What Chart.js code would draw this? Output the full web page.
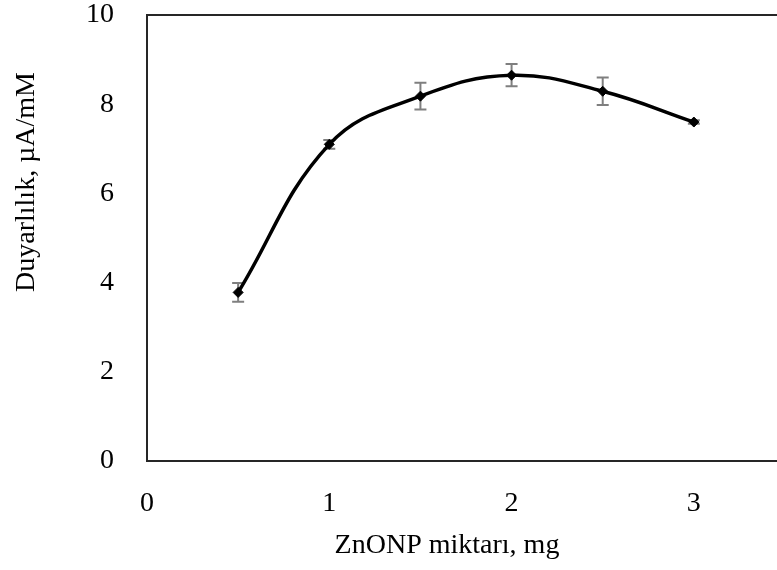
<!DOCTYPE html>
<html>
<head>
<meta charset="utf-8">
<script src="https://cdn.jsdelivr.net/npm/chart.js@4.4.1/dist/chart.umd.min.js"></script>
<style>
  html, body { margin: 0; padding: 0; background: #fff; overflow: hidden; }
  #wrap { width: 800px; height: 570px; }
</style>
</head>
<body>
<div id="wrap"><canvas id="sens"></canvas></div>
<script>
// ZnONP amount (mg) vs sensitivity (uA/mM), with standard deviations
var amounts = [0.5, 1, 1.5, 2, 2.5, 3];
var sensitivity = [3.78, 7.1, 8.18, 8.65, 8.29, 7.6];
var errors = [0.21, 0.1, 0.3, 0.25, 0.31, 0.04];
var xTicks = [0, 1, 2, 3];
var yTicks = [0, 2, 4, 6, 8, 10];
var xTitle = 'ZnONP miktarı, mg';
var yTitle = 'Duyarlılık, µA/mM';

var points = amounts.map(function (a, i) { return { x: a, y: sensitivity[i] }; });

var serif = '"Liberation Serif", "Times New Roman", serif';
var fontPx = 28;

// grey error bars with caps, the plot frame and the two axis titles
var errorBars = {
  id: 'errorBars',
  beforeDatasetsDraw: function (chart) {
    var c = chart.ctx, xs = chart.scales.x, ys = chart.scales.y;
    c.save();
    c.strokeStyle = '#7f7f7f';
    c.lineWidth = 2;
    amounts.forEach(function (a, i) {
      var px = xs.getPixelForValue(a);
      var top = ys.getPixelForValue(sensitivity[i] + errors[i]);
      var bot = ys.getPixelForValue(sensitivity[i] - errors[i]);
      c.beginPath();
      c.moveTo(px, top); c.lineTo(px, bot);
      c.moveTo(px - 6, top); c.lineTo(px + 6, top);
      c.moveTo(px - 6, bot); c.lineTo(px + 6, bot);
      c.stroke();
    });
    c.restore();
  },
  afterDraw: function (chart) {
    var a = chart.chartArea, c = chart.ctx;
    c.save();
    c.strokeStyle = '#262626';
    c.lineWidth = 2;
    c.strokeRect(a.left, a.top, a.right - a.left, a.bottom - a.top);

    c.fillStyle = '#000';
    c.font = fontPx + 'px ' + serif;
    c.textAlign = 'center';
    c.textBaseline = 'middle';
    c.fillText(xTitle, 447, 546);
    c.translate(27, 182);
    c.rotate(-Math.PI / 2);
    c.fillText(yTitle, 0, 0);
    c.restore();
  }
};

new Chart(document.getElementById('sens'), {
  type: 'scatter',
  data: {
    datasets: [{
      data: points,
      showLine: true,
      tension: 0.4,
      borderColor: '#000',
      borderWidth: 3.5,
      pointStyle: 'rectRot',
      pointRadius: 5,
      pointBackgroundColor: '#000',
      pointBorderColor: '#000',
      pointBorderWidth: 1
    }]
  },
  options: {
    responsive: true,
    maintainAspectRatio: false,
    animation: false,
    layout: { padding: { top: 15, right: 15, left: 0, bottom: 0 } },
    plugins: { legend: { display: false }, tooltip: { enabled: false } },
    scales: {
      x: {
        type: 'linear',
        min: 0,
        max: 3.5,
        afterBuildTicks: function (s) { s.ticks = xTicks.map(function (v) { return { value: v }; }); },
        afterFit: function (s) { s.height = 109; s.paddingLeft = 0; s.paddingRight = 0; },
        grid: { display: false },
        border: { display: false },
        ticks: { color: '#000', padding: 18, maxRotation: 0, font: { family: serif, size: fontPx } }
      },
      y: {
        min: 0,
        max: 10,
        afterBuildTicks: function (s) { s.ticks = yTicks.map(function (v) { return { value: v }; }); },
        afterFit: function (s) { s.width = 147; s.paddingTop = 0; s.paddingBottom = 0; },
        grid: { display: false },
        border: { display: false },
        ticks: { color: '#000', padding: 25, font: { family: serif, size: fontPx } }
      }
    }
  },
  plugins: [errorBars]
});
</script>
</body>
</html>
